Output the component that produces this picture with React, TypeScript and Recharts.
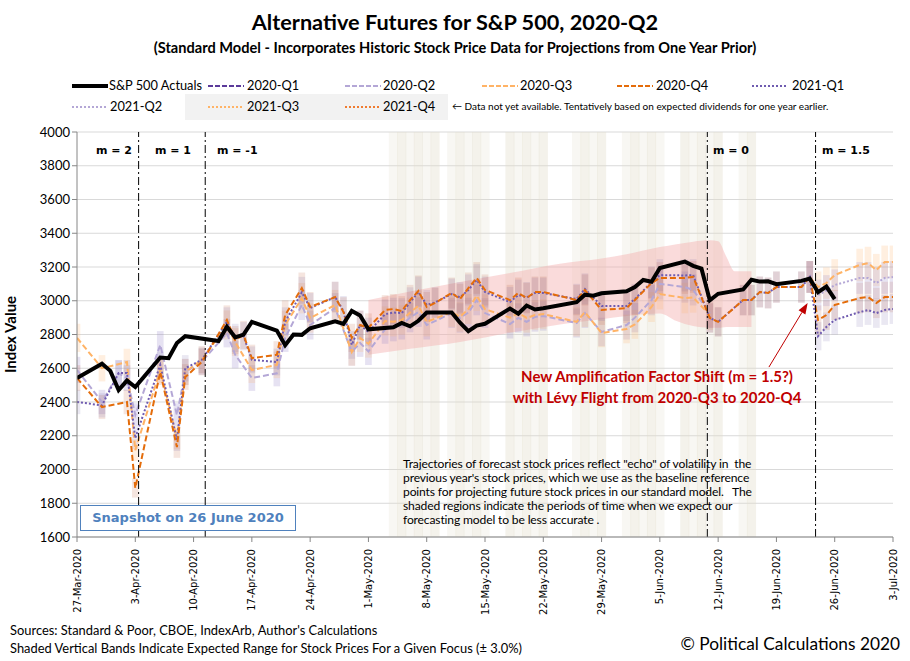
import React from "react";
import {
  ComposedChart,
  Line,
  Area,
  XAxis,
  YAxis,
  CartesianGrid,
  ReferenceLine,
  ReferenceArea,
} from "recharts";

document.body.style.margin = "0";

// x axis = calendar days after 27-Mar-2020
const tickDays = [0, 7, 14, 21, 28, 35, 42, 49, 56, 63, 70, 77, 84, 91, 98];
const tickLabels = [
  "27-Mar-2020", "3-Apr-2020", "10-Apr-2020", "17-Apr-2020", "24-Apr-2020",
  "1-May-2020", "8-May-2020", "15-May-2020", "22-May-2020", "29-May-2020",
  "5-Jun-2020", "12-Jun-2020", "19-Jun-2020", "26-Jun-2020", "3-Jul-2020",
];
const yTicks = [1600, 1800, 2000, 2200, 2400, 2600, 2800, 3000, 3200, 3400, 3600, 3800, 4000];

// S&P 500 closing values on trading days
const actualDays = [0, 3, 4, 5, 6, 7, 10, 11, 12, 13, 17, 18, 19, 20, 21, 24, 25, 26, 27, 28, 31, 32, 33, 34, 35, 38, 39, 40, 41, 42, 45, 46, 47, 48, 49, 52, 53, 54, 55, 56, 60, 61, 62, 63, 66, 67, 68, 69, 70, 73, 74, 75, 76, 77, 80, 81, 82, 83, 84, 87, 88, 89, 90, 91];
const actualValues = [2541.47, 2626.65, 2584.59, 2470.5, 2526.9, 2488.65, 2663.68, 2659.41, 2749.98, 2789.82, 2761.63, 2846.06, 2783.36, 2799.55, 2874.56, 2823.16, 2736.56, 2799.31, 2797.8, 2836.74, 2878.48, 2863.39, 2939.51, 2912.43, 2830.71, 2842.74, 2868.44, 2848.42, 2881.19, 2929.8, 2930.32, 2870.12, 2820.0, 2852.5, 2863.7, 2953.91, 2922.94, 2971.61, 2948.51, 2955.45, 2991.77, 3036.13, 3029.73, 3044.31, 3055.73, 3080.82, 3122.87, 3112.35, 3193.93, 3232.39, 3207.18, 3190.14, 3002.1, 3041.31, 3066.59, 3124.74, 3113.49, 3115.34, 3097.74, 3117.86, 3131.29, 3050.33, 3083.76, 3009.05];

// forecasts [day, value]
const q2_2020: [number, number | null][] = [[0, 2590], [3, 2400], [5, 2570], [6, 2542], [7, 2323], [10, 2738], [12, 2323], [13, 2578], [15, 2640], [18, 2808], [19, 2680], [21, 2542], [24, 2570], [25, 2780], [27, 2975], [28, 2856], [31, 2957], [33, 2696], [34, 2750], [35, 2700], [37, 2830], [38, 2845], [39, 2856], [40, 2900], [41, 2933], [42, 2856], [45, 2927], [46, 2898], [47, 2930], [48, 3004], [49, 2927], [52, 2862], [53, 2898], [54, 2875], [55, 2904], [56, 2910], [60, 2868], [61, 2927], [63, 2815], [66, 2856], [67, 2900], [69, 3004], [70, 3100], [73, 3081], [74, 3064], [76, 2927]];
const q3_2020: [number, number | null][] = [[0, 2780], [3, 2600], [6, 2637], [7, 2115], [10, 2590], [12, 2185], [13, 2578], [15, 2650], [18, 2857], [19, 2755], [21, 2590], [24, 2620], [25, 2856], [27, 3015], [28, 2898], [31, 2975], [33, 2696], [34, 2780], [35, 2745], [37, 2880], [38, 2875], [39, 2886], [40, 2930], [41, 2970], [42, 2875], [45, 2933], [46, 2904], [47, 2951], [48, 3030], [49, 2950], [52, 2900], [53, 2927], [54, 2898], [55, 2915], [56, 2921], [60, 2875], [61, 2933], [63, 2809], [66, 2833], [67, 2860], [69, 2963], [70, 3040], [73, 3016], [74, 3020], [76, 2915], [80, null], [88, 3141], [89, 3081], [90, 3105], [91, 3152], [94, 3212], [95, 3223], [96, 3182], [97, 3230], [98, 3230]];
const q4_2020: [number, number | null][] = [[0, 2542], [3, 2370], [6, 2400], [7, 1890], [10, 2578], [12, 2133], [13, 2548], [15, 2637], [18, 2886], [19, 2767], [20, 2797], [21, 2660], [24, 2680], [25, 2915], [27, 3075], [28, 2963], [31, 3022], [32, 2933], [33, 2780], [34, 2856], [35, 2840], [37, 2945], [38, 2951], [39, 2939], [40, 3004], [41, 3058], [42, 2963], [43, 2987], [45, 3046], [46, 3010], [47, 3075], [48, 3135], [49, 3064], [52, 3004], [53, 3046], [54, 3016], [55, 3052], [56, 3052], [60, 3004], [61, 3064], [63, 2945], [66, 2957], [67, 3004], [69, 3105], [70, 3135], [73, 3135], [74, 3141], [76, 2898], [77, 2875], [80, 3004], [81, 3004], [82, 3052], [83, 3046], [84, 3081], [87, 3081], [88, 3141], [89, 2886], [90, 2915], [91, 2975], [94, 3016], [95, 3022], [96, 2987], [97, 3022], [98, 3022]];
const q1_2021: [number, number | null][] = [[0, 2400], [3, 2380], [5, 2572], [6, 2572], [7, 2186], [10, 2620], [12, 2175], [13, 2600], [15, 2650], [18, 2875], [19, 2780], [20, 2790], [21, 2650], [24, 2637], [25, 2875], [27, 3050], [28, 2957], [31, 3022], [32, 2940], [33, 2738], [34, 2856], [35, 2815], [37, 2920], [38, 2930], [39, 2927], [40, 2990], [41, 3052], [42, 2975], [43, 2990], [45, 3040], [46, 3020], [47, 3064], [48, 3123], [49, 3052], [52, 2992], [53, 3034], [54, 3020], [55, 3046], [56, 3046], [60, 3010], [61, 3070], [63, 2969], [66, 2969], [67, 3010], [69, 3110], [70, 3152], [73, 3150], [74, 3152], [76, 2898], [77, 2875], [80, 3004], [81, 3004], [82, 3052], [83, 3046], [84, 3081], [87, 3081], [88, 3141], [89, 2790], [90, 2845], [91, 2886], [94, 2933], [95, 2945], [96, 2927], [97, 2945], [98, 2951]];
const q2_2021: [number, number | null][] = [[88, 3141], [89, 3034], [90, 3060], [91, 3093], [94, 3135], [95, 3135], [96, 3105], [97, 3135], [98, 3141]];

// pink "less accurate" zone
const pinkDays = [35, 40, 46, 52, 58, 63, 66, 70, 72, 74, 76, 77, 78, 79, 81];
const pinkLow = [2680, 2715, 2756, 2810, 2860, 2890, 2910, 2925, 2880, 2850, 2840, 2840, 2845, 2845, 2845];
const pinkHigh = [3004, 3055, 3111, 3165, 3220, 3250, 3275, 3318, 3335, 3350, 3358, 3352, 3260, 3175, 3175];

// beige stripes
const stripeDays = [38, 39, 40, 41, 42, 43, 45, 46, 47, 48, 49, 52, 53, 54, 55, 56, 60, 61, 62, 63, 66, 67, 68, 69, 70, 73, 74, 75, 76, 77, 80, 81];

// regime changes
const regimeDays = [7.4, 15.4, 75.7, 88.7];

const BAND = 0.03;

const toData = (pairs: [number, number | null][]) => pairs.map(([d, v]) => ({ d, v }));
const actualData = actualDays.map((d, i) => ({ d, v: actualValues[i] }));
const pinkData = pinkDays.map((d, i) => ({ d, range: [pinkLow[i], pinkHigh[i]] }));

const bandSets = [
  { pts: q2_2020, fill: "#8E7CC3", op: 0.22 },
  { pts: q3_2020, fill: "#FFB870", op: 0.22 },
  { pts: q4_2020, fill: "#C0603A", op: 0.16 },
  { pts: q1_2021, fill: "#6A5AA0", op: 0.14 },
  { pts: q2_2021, fill: "#8E7CC3", op: 0.2 },
];

const XTick = (props: any) => {
  const { x, y, payload } = props;
  const idx = tickDays.indexOf(payload.value);
  return (
    <g>
      <line x1={x} y1={y - 8} x2={x} y2={y - 3} stroke="#868686" />
      <text
        x={x}
        y={y + 4}
        transform={`rotate(-90 ${x} ${y + 4})`}
        textAnchor="end"
        dy="0.35em"
        fontFamily="DejaVu Sans"
        fontSize={10}
        fill="#000"
      >
        {tickLabels[idx]}
      </text>
    </g>
  );
};

const Arrow = (p: any) => {
  const { x1, y1, x2, y2 } = p;
  if (x1 == null) return <g />;
  const ang = Math.atan2(y2 - y1, x2 - x1);
  const L = 11;
  const W = 4;
  const bx = x2 - L * Math.cos(ang);
  const by = y2 - L * Math.sin(ang);
  const pts = `${x2},${y2} ${bx + W * Math.sin(ang)},${by - W * Math.cos(ang)} ${bx - W * Math.sin(ang)},${by + W * Math.cos(ang)}`;
  return (
    <g>
      <line x1={x1} y1={y1} x2={bx} y2={by} stroke="#C00000" strokeWidth={1} />
      <polygon points={pts} fill="#C00000" />
    </g>
  );
};

const legendRow1 = [
  { name: "S&P 500 Actuals", color: "#000", dash: "", w: 4, lx: 72, tx: 109 },
  { name: "2020-Q1", color: "#5B3A9A", dash: "5 2", w: 2, lx: 208, tx: 247 },
  { name: "2020-Q2", color: "#B4A7D6", dash: "5 2", w: 2, lx: 345, tx: 383 },
  { name: "2020-Q3", color: "#FFB366", dash: "5 2", w: 2, lx: 482, tx: 520 },
  { name: "2020-Q4", color: "#E46C0A", dash: "5 2", w: 2, lx: 617, tx: 656 },
  { name: "2021-Q1", color: "#6F5BB0", dash: "2 2", w: 2, lx: 752, tx: 792 },
];
const legendRow2 = [
  { name: "2021-Q2", color: "#B4A7D6", dash: "2 2", w: 2, lx: 72, tx: 110 },
  { name: "2021-Q3", color: "#FFB366", dash: "2 2", w: 2, lx: 208, tx: 247 },
  { name: "2021-Q4", color: "#F07C30", dash: "2 2", w: 2, lx: 345, tx: 383 },
];

const LegendItem = ({ it, y }: { it: any; y: number }) => (
  <>
    <svg style={{ position: "absolute", left: it.lx, top: y - 5 }} width={38} height={10}>
      <line x1={0} y1={5} x2={36} y2={5} stroke={it.color} strokeWidth={it.w} strokeDasharray={it.dash} />
    </svg>
    <div style={{ position: "absolute", left: it.tx, top: y - 9, fontSize: 12.8, lineHeight: "17px", color: "#000", whiteSpace: "nowrap" }}>
      {it.name}
    </div>
  </>
);

const mLabel = (text: string, left: number) => (
  <div
    style={{
      position: "absolute",
      left,
      top: 144,
      fontFamily: "DejaVu Sans",
      fontWeight: "bold",
      fontSize: 11,
      color: "#000",
    }}
  >
    {text}
  </div>
);

export default function App() {
  return (
    <div style={{ position: "relative", width: 910, height: 661, background: "#fff", fontFamily: "Lato", overflow: "hidden" }}>
      <div style={{ position: "absolute", left: 0, width: 910, top: 9, textAlign: "center", fontWeight: "bold", fontSize: 21.7, whiteSpace: "nowrap" }}>
        Alternative Futures for S&amp;P 500, 2020-Q2
      </div>
      <div style={{ position: "absolute", left: 0, width: 910, top: 39, textAlign: "center", fontWeight: "bold", fontSize: 14.6, whiteSpace: "nowrap" }}>
        (Standard Model - Incorporates Historic Stock Price Data for Projections from One Year Prior)
      </div>

      <div style={{ position: "absolute", left: 185, top: 94, width: 263, height: 26, background: "#F2F2F2" }} />
      {legendRow1.map((it) => (
        <LegendItem key={it.name} it={it} y={86} />
      ))}
      {legendRow2.map((it) => (
        <LegendItem key={it.name} it={it} y={107} />
      ))}
      <div style={{ position: "absolute", left: 452, top: 100, fontSize: 10, color: "#000", whiteSpace: "nowrap" }}>
        ← Data not yet available.  Tentatively based on expected dividends for one year earlier.
      </div>

      <div style={{ position: "absolute", top: 0, left: 0 }}>
        <ComposedChart width={910} height={661} margin={{ top: 132, right: 17, bottom: 49, left: 17 }}>
          <CartesianGrid vertical={false} stroke="#D9D9D9" />
          <XAxis
            dataKey="d"
            type="number"
            domain={[0, 98]}
            ticks={tickDays}
            allowDataOverflow
            height={75}
            tickLine={false}
            axisLine={{ stroke: "#868686" }}
            tick={<XTick />}
            interval={0}
          />
          <YAxis
            type="number"
            domain={[1600, 4000]}
            ticks={yTicks}
            width={60}
            axisLine={{ stroke: "#868686" }}
            tickLine={{ stroke: "#868686" }}
            tickSize={5}
            tick={{ fontFamily: "Lato", fontSize: 13, fill: "#000" }}
            label={{
              value: "Index Value",
              angle: -90,
              position: "insideLeft",
              offset: -6,
              style: { fontFamily: "Lato", fontWeight: "bold", fontSize: 15, fill: "#000", textAnchor: "middle" },
            }}
          />
          {stripeDays.map((d, i) => (
            <ReferenceArea
              key={"s" + d}
              x1={d - 0.55}
              x2={d + 0.55}
              y1={1600}
              y2={4000}
              fill="#E4DECE"
              fillOpacity={i % 2 === 0 ? 0.25 : 0.4}
              stroke="none"
              ifOverflow="hidden"
            />
          ))}
          <Area
            data={pinkData}
            dataKey="range"
            type="monotone"
            stroke="none"
            fill="#F3AFAF"
            fillOpacity={0.45}
            isAnimationActive={false}
            activeDot={false}
          />
          {bandSets.map((b, bi) =>
            b.pts
              .filter(([, v]) => v != null)
              .map(([d, v]) => (
                <ReferenceArea
                  key={`b${bi}-${d}`}
                  x1={d - 0.4}
                  x2={d + 0.4}
                  y1={(v as number) * (1 - BAND)}
                  y2={(v as number) * (1 + BAND)}
                  fill={b.fill}
                  fillOpacity={b.op}
                  stroke="none"
                  ifOverflow="hidden"
                />
              ))
          )}
          <Line data={toData(q2_2020)} dataKey="v" stroke="#B4A7D6" strokeWidth={2} strokeDasharray="6 3" dot={false} isAnimationActive={false} />
          <Line data={toData(q3_2020)} dataKey="v" stroke="#FFB366" strokeWidth={2} strokeDasharray="6 3" dot={false} isAnimationActive={false} />
          <Line data={toData(q2_2021)} dataKey="v" stroke="#B4A7D6" strokeWidth={2} strokeDasharray="2 2" dot={false} isAnimationActive={false} />
          <Line data={toData(q1_2021)} dataKey="v" stroke="#6F5BB0" strokeWidth={2} strokeDasharray="2 2" dot={false} isAnimationActive={false} />
          <Line data={toData(q4_2020)} dataKey="v" stroke="#E46C0A" strokeWidth={2} strokeDasharray="6 3" dot={false} isAnimationActive={false} />
          <Line data={actualData} dataKey="v" stroke="#000" strokeWidth={4} dot={false} isAnimationActive={false} />
          {regimeDays.map((d) => (
            <ReferenceLine key={"r" + d} x={d} stroke="#000" strokeWidth={1} strokeDasharray="8 3 2 3" />
          ))}
          <ReferenceLine
            segment={[
              { x: 83.1, y: 2607 },
              { x: 87.75, y: 2987 },
            ]}
            shape={<Arrow />}
          />
        </ComposedChart>
      </div>

      {mLabel("m = 2", 96)}
      {mLabel("m = 1", 155)}
      {mLabel("m = -1", 217)}
      {mLabel("m = 0", 713)}
      {mLabel("m = 1.5", 822)}

      <div style={{ position: "absolute", left: 507, width: 300, top: 366, textAlign: "center", color: "#C00000", fontWeight: "bold", fontSize: 15, lineHeight: "21px", whiteSpace: "nowrap" }}>
        New Amplification Factor Shift (m = 1.5?)
        <br />
        with Lévy Flight from 2020-Q3 to 2020-Q4
      </div>

      <div style={{ position: "absolute", left: 403, top: 457, fontSize: 12.1, letterSpacing: -0.15, lineHeight: "14px", color: "#000", whiteSpace: "pre" }}>
        {"Trajectories of forecast stock prices reflect \"echo\" of volatility in  the\nprevious year's stock prices, which we use as the baseline reference\npoints for projecting future stock prices in our standard model.   The\nshaded regions indicate the periods of time when we expect our\nforecasting model to be less accurate ."}
      </div>

      <div
        style={{
          position: "absolute",
          left: 80,
          top: 505,
          width: 214,
          height: 24,
          border: "1.5px solid #4F81BD",
          background: "#fff",
          color: "#4F81BD",
          fontFamily: "DejaVu Sans",
          fontWeight: "bold",
          fontSize: 13,
          lineHeight: "24px",
          textAlign: "center",
        }}
      >
        Snapshot on 26 June 2020
      </div>

      <div style={{ position: "absolute", left: 10, top: 622, fontSize: 12.9, color: "#000", whiteSpace: "nowrap" }}>
        Sources: Standard &amp; Poor, CBOE, IndexArb, Author's Calculations
      </div>
      <div style={{ position: "absolute", left: 10, top: 640, fontSize: 12.9, color: "#000", whiteSpace: "nowrap" }}>
        Shaded Vertical Bands Indicate Expected Range for Stock Prices For a Given Focus (± 3.0%)
      </div>
      <div style={{ position: "absolute", right: 10, top: 633, fontSize: 17.3, color: "#000", whiteSpace: "nowrap" }}>
        © Political Calculations 2020
      </div>
    </div>
  );
}
